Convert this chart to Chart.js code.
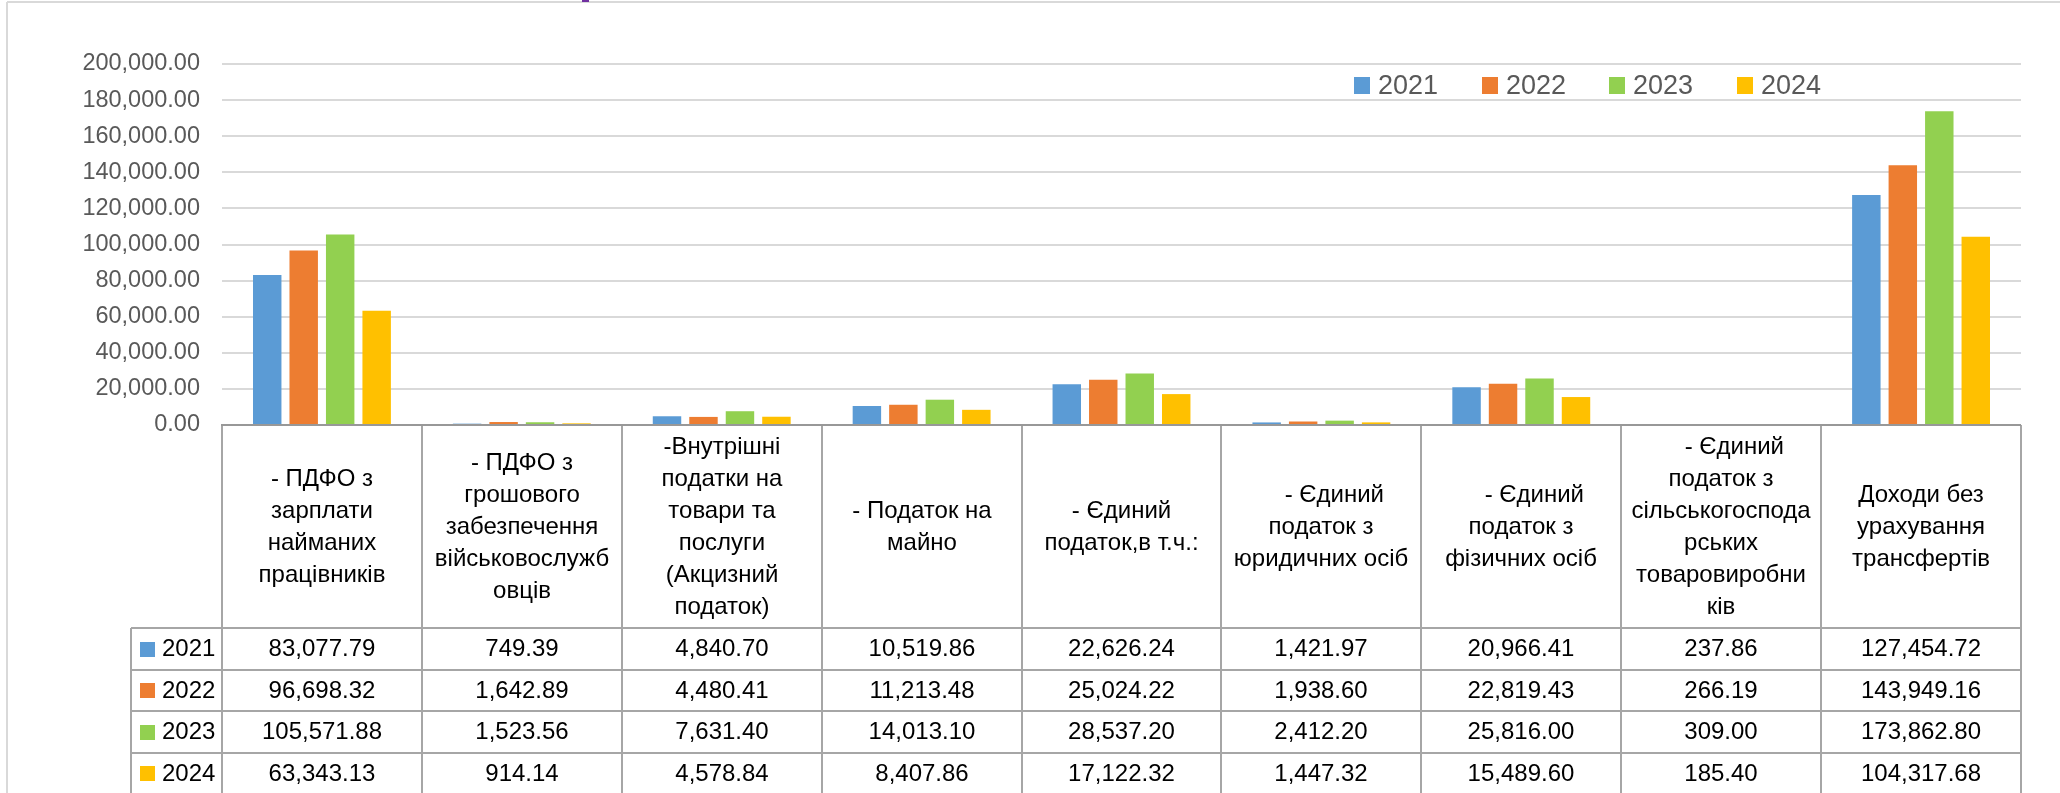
<!DOCTYPE html>
<html><head><meta charset="utf-8">
<script src="https://cdn.jsdelivr.net/npm/chart.js@4.4.1/dist/chart.umd.min.js"></script>
<style>html,body{margin:0;padding:0;background:#fff;overflow:hidden}canvas{display:block}</style>
</head><body>
<canvas id="c" width="2060" height="793"></canvas>
<script>
// ---- data ----
const categories = [
  ["- ПДФО з", "зарплати", "найманих", "працівників"],
  ["- ПДФО з", "грошового", "забезпечення", "військовослужб", "овців"],
  ["-Внутрішні", "податки на", "товари та", "послуги", "(Акцизний", "податок)"],
  ["- Податок на", "майно"],
  ["- Єдиний", "податок,в т.ч.:"],
  ["    - Єдиний", "податок з", "юридичних осіб"],
  ["    - Єдиний", "податок з", "фізичних осіб"],
  ["    - Єдиний", "податок з", "сільськогоспода", "рських", "товаровиробни", "ків"],
  ["Доходи без", "урахування", "трансфертів"]
];
const years = ["2021", "2022", "2023", "2024"];
const values2021 = [83077.79, 749.39, 4840.70, 10519.86, 22626.24, 1421.97, 20966.41, 237.86, 127454.72];
const values2022 = [96698.32, 1642.89, 4480.41, 11213.48, 25024.22, 1938.60, 22819.43, 266.19, 143949.16];
const values2023 = [105571.88, 1523.56, 7631.40, 14013.10, 28537.20, 2412.20, 25816.00, 309.00, 173862.80];
const values2024 = [63343.13, 914.14, 4578.84, 8407.86, 17122.32, 1447.32, 15489.60, 185.40, 104317.68];
const yMin = 0, yMax = 200000, yStep = 20000;

// ---- styles ----
const seriesColors = ["#5B9BD5", "#ED7D31", "#92D050", "#FFC000"];
const FONT = '"Liberation Sans", Arial, sans-serif';
const fmt = v => Number(v).toLocaleString('en-US', {minimumFractionDigits: 2, maximumFractionDigits: 2});

const seriesValues = [values2021, values2022, values2023, values2024];

const tablePlugin = {
  id: 'dataTable',
  afterDraw(chart) {
    const ctx = chart.ctx, xs = chart.scales.x, area = chart.chartArea;
    const n = chart.data.labels.length;
    const w = xs.getPixelForValue(1) - xs.getPixelForValue(0);
    const bounds = [];
    for (let i = 0; i <= n; i++) bounds.push(Math.round(xs.getPixelForValue(i) - w / 2));
    const top = Math.round(area.bottom);
    const headBottom = 628, rowH = 41.5, rowHeadLeft = 131;
    const ds = chart.data.datasets;
    const bottom = headBottom + ds.length * rowH;
    ctx.save();
    // outer chart frame
    ctx.strokeStyle = '#D9D9D9'; ctx.lineWidth = 2;
    ctx.beginPath(); ctx.moveTo(7, 2); ctx.lineTo(2060, 2); ctx.moveTo(7, 2); ctx.lineTo(7, 793); ctx.stroke();
    ctx.fillStyle = '#7030A0'; ctx.fillRect(582, 0, 7, 2);

    // table grid
    ctx.strokeStyle = '#A6A6A6'; ctx.lineWidth = 2;
    ctx.beginPath();
    for (let r = 0; r <= ds.length; r++) {
      const y = Math.round(headBottom + r * rowH);
      ctx.moveTo(rowHeadLeft, y); ctx.lineTo(bounds[n], y);
    }
    for (let i = 0; i <= n; i++) { ctx.moveTo(bounds[i], top); ctx.lineTo(bounds[i], bottom); }
    ctx.moveTo(rowHeadLeft, headBottom); ctx.lineTo(rowHeadLeft, bottom);
    ctx.stroke();
    // axis line
    ctx.strokeStyle = '#989898';
    ctx.beginPath(); ctx.moveTo(bounds[0] - 1, top); ctx.lineTo(bounds[n], top); ctx.stroke();

    // header text
    ctx.fillStyle = '#000'; ctx.textAlign = 'center'; ctx.textBaseline = 'middle';
    ctx.font = '24px ' + FONT;
    const lh = 32, hc = (top + headBottom) / 2 + 1;
    chart.data.labels.forEach((lines, i) => {
      const cx = (bounds[i] + bounds[i + 1]) / 2;
      const y0 = hc - (lines.length - 1) * lh / 2;
      lines.forEach((t, k) => ctx.fillText(t, cx, y0 + k * lh));
    });
    // values
    ds.forEach((d, r) => {
      const cy = headBottom + r * rowH + rowH / 2 + 1;
      d.data.forEach((v, i) => {
        ctx.fillText(fmt(v), (bounds[i] + bounds[i + 1]) / 2, cy);
      });
      // row header
      ctx.fillStyle = d.backgroundColor;
      ctx.fillRect(140, Math.round(cy - 8), 15, 15);
      ctx.fillStyle = '#000'; ctx.textAlign = 'left';
      ctx.fillText(d.label, 162, cy);
      ctx.textAlign = 'center';
    });

    // legend
    ctx.font = '27px ' + FONT; ctx.textAlign = 'left'; ctx.textBaseline = 'middle';
    ds.forEach((d, i) => {
      const sx = 1354 + i * 127.5;
      ctx.fillStyle = d.backgroundColor;
      ctx.fillRect(Math.round(sx), 77, 16, 17);
      ctx.fillStyle = '#595959';
      ctx.fillText(d.label, Math.round(sx) + 24, 86.5);
    });
    ctx.restore();
  }
};

new Chart(document.getElementById('c'), {
  type: 'bar',
  data: {
    labels: categories,
    datasets: years.map((yr, i) => ({
      label: yr,
      data: seriesValues[i],
      backgroundColor: seriesColors[i],
      borderWidth: 0,
      categoryPercentage: 0.73,
      barPercentage: 0.78
    }))
  },
  options: {
    responsive: false,
    animation: false,
    devicePixelRatio: 1,
    layout: {padding: {top: 64, right: 39, bottom: 368, left: 0}},
    plugins: {legend: {display: false}, tooltip: {enabled: false}},
    scales: {
      x: {display: false},
      y: {
        min: yMin, max: yMax,
        afterFit(s) { s.width = 222; },
        ticks: {stepSize: yStep, padding: 22, color: '#595959', font: {family: FONT, size: 23.5}, callback: v => fmt(v)},
        grid: {color: '#D9D9D9', lineWidth: 2, drawTicks: false},
        border: {display: false}
      }
    }
  },
  plugins: [tablePlugin]
});
</script>
</body></html>
